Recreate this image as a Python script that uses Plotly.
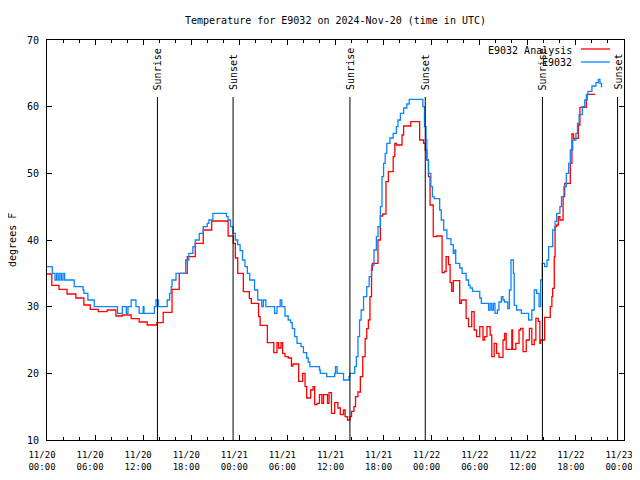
import pandas as pd
import plotly.graph_objects as go

# ---- data (hours after 2024-11-20 00:00 UTC, degrees F) ----
obs_hours = [0, 0.66, 1.0, 1.2, 1.4, 1.6, 1.8, 2.0, 2.2, 3.4, 4.5, 4.6, 5.1, 5.9, 8.8, 9.4, 9.9,
             10.1, 10.5, 11.1, 11.5, 12.0, 12.1, 13.4, 13.6, 13.9, 15.0, 15.3, 15.5, 15.6, 16.1,
             17.3, 17.7, 18.2, 18.5, 19.0, 19.5, 20.0, 20.2, 20.7, 22.4, 22.6, 22.9, 23.2, 23.5,
             23.8, 24.1, 24.4, 24.7, 25.0, 25.3, 25.9, 26.3, 26.8, 27.0, 27.3, 28.4, 28.7, 29.1,
             29.3, 29.7, 30.1, 30.4, 30.6, 30.9, 31.2, 31.7, 32.0, 32.4, 32.6, 32.8, 34.0, 34.1,
             34.9, 35.9, 36.0, 36.2, 37.0, 37.7, 37.8, 38.4, 38.6, 38.8, 39.0, 39.2, 39.5, 39.9,
             40.2, 40.5, 40.8, 41.1, 41.3, 41.6, 41.8, 42.0, 42.2, 42.4, 42.8, 43.2, 43.6, 43.8,
             44.1, 44.5, 44.9, 45.2, 46.9, 47.1, 47.3, 47.4, 47.6, 47.9, 48.1, 48.3, 49.0, 49.2,
             49.5, 49.9, 50.4, 50.7, 50.9, 51.0, 51.5, 51.8, 52.3, 52.6, 52.8, 53.1, 54.0, 54.2,
             55.1, 55.3, 55.5, 55.7, 55.9, 56.2, 56.4, 56.7, 56.9, 57.1, 57.5, 57.7, 57.9, 58.2,
             58.3, 58.6, 59.2, 60.1, 60.5, 60.8, 61.1, 61.4, 61.6, 61.8, 62.1, 62.4, 62.6, 63.1,
             63.4, 63.6, 64.0, 64.2, 64.5, 64.8, 65.1, 65.3, 65.6, 66.0, 66.2, 66.4, 66.8, 67.1,
             67.3, 67.5, 68.0, 68.5, 68.8, 69.0, 69.2, 69.3]
obs_temps = [36, 35, 34, 35, 34, 35, 34, 35, 34, 33, 32.5, 32, 31, 30, 29, 30, 29,
             30, 31, 30, 29, 30, 29, 30, 31, 30, 31, 32, 33, 34, 35,
             37, 38, 39, 40, 41, 42, 42.5, 43, 44, 43.5, 43, 42, 41, 40,
             39.3, 38.4, 37, 36, 35, 34, 32.5, 31, 30, 31, 30, 29, 30, 31,
             30, 28.6, 28, 27.6, 26.7, 25.5, 24.5, 24, 23.1, 22.3, 21.7, 21, 20.5, 20,
             19.5, 20, 21, 20, 19, 19.5, 20, 21, 22.5, 25.5, 28, 29.5, 31.5, 33,
             34.5, 36.2, 38.5, 40.5, 42, 45, 49.5, 51.5, 53, 54.5, 55.3, 56, 57, 58,
             59, 59.8, 60.4, 61.1, 60, 57, 55, 52, 50, 48, 46.5, 46.2, 44.5, 43,
             41.5, 40.2, 39.3, 38, 38.5, 36.5, 35.8, 35, 34, 33.2, 32.8, 32.3, 31.3, 30.5,
             29.5, 30.5, 29.5, 30.5, 29, 29.5, 30.7, 31.5, 31, 30.7, 29.7, 32.5, 37, 35,
             30.2, 29.5, 29, 28, 29.5, 32.5, 32, 30, 34, 36.5, 36, 37, 39, 41.5,
             42.8, 44, 45, 46.5, 48, 50, 51.5, 53.5, 55, 56, 57.5, 58.8, 60, 61,
             61.8, 62.3, 63.1, 63.6, 64.1, 63.5, 63, 63]

ana_hours = [0, 0.6, 1.5, 2.5, 3.6, 4.6, 5.4, 6.4, 7.5, 8.6, 9.4, 10.5, 11.5, 12.5, 13.7,
             14.5, 15.6, 16.5, 17.5, 18.5, 19.5, 20.55, 22.6, 23.25, 23.5, 23.8, 24.5, 25.25,
             25.5, 26.4, 26.6, 27.5, 28.3, 28.7, 28.9, 29.2, 29.4, 29.7, 30.1, 30.5, 30.7,
             31.4, 31.9, 32.2, 32.4, 32.9, 33.2, 33.4, 33.7, 34.0, 34.3, 34.5, 35.0, 35.2,
             35.5, 35.9, 36.3, 36.6, 37.0, 37.2, 37.5, 37.8, 38.0, 38.3, 38.5, 38.8, 39.1,
             39.4, 39.7, 39.9, 40.1, 40.3, 40.5, 40.6, 41.3, 41.6, 41.9, 42.3, 42.6, 43.2,
             43.4, 43.6, 44.3, 44.5, 45.4, 46.5, 47.0, 47.2, 47.4, 47.6, 47.8, 48.2, 48.6,
             49.3, 49.6, 49.8, 50.1, 50.3, 50.5, 50.7, 51.5, 51.7, 52.3, 52.6, 53.0, 53.3,
             53.6, 54.0, 54.4, 54.6, 54.9, 55.3, 55.5, 55.8, 56.1, 56.4, 56.9, 57.1, 57.3,
             58.0, 58.1, 58.5, 58.9, 59.1, 59.4, 59.8, 60.2, 60.5, 60.8, 61.0, 61.3, 61.5,
             61.6, 62.1, 62.8, 63.0, 63.1, 63.3, 63.4, 63.6, 63.8, 64.0, 64.4, 64.6, 65.3,
             65.5, 65.7, 66.3, 66.5, 67.3, 67.4, 68.4]
ana_temps = [34.9, 33.2, 32.6, 31.9, 31.3, 30.25, 29.6, 29.25, 29.5, 28.6, 28.75, 28.2, 27.7, 27.25, 27.6,
             29.15, 32.6, 35, 37.5, 39.5, 41.5, 42.85, 40.6, 39.5, 37.3, 35, 32.25, 31.2,
             30.5, 28.5, 27.2, 24.6, 23.1, 24.6, 23.8, 24.6, 23, 22.5, 22.3, 21.1, 21.4,
             18.8, 20, 18, 16.3, 17.5, 18, 15.3, 15.5, 16.8, 15.5, 16.8, 15.5, 17.1,
             14, 15.6, 14.8, 13.8, 14.5, 13.5, 13, 13.5, 14.3, 15, 16.5, 17.2, 19.5,
             22.5, 25.2, 26.7, 28, 31.5, 35.5, 36.5, 40, 43.6, 43.9, 48.75, 50.25, 52.5,
             54.5, 54.25, 55.75, 57.1, 57.75, 55, 54.5, 53.5, 52, 49.5, 45.25, 40.5, 40.6,
             35.1, 35.3, 37.5, 36.3, 33.6, 32.3, 33.9, 30.5, 31, 28.25, 27, 29.25, 26.5,
             25.5, 27, 25, 25.5, 27, 25.75, 22.5, 24.5, 23, 22.4, 25, 26, 23.6,
             26.5, 23.6, 24.5, 26.5, 26.75, 23.25, 25, 26.75, 24.3, 25, 28.25, 27.8, 24.5,
             25, 28.4, 30, 31.5, 32.75, 37.5, 42, 42.25, 43.5, 43, 46.5, 48.5, 51.5,
             55.9, 55.25, 57.25, 59.9, 61, 61.85, 61.85]

sun_hours = [13.78, 23.22, 37.8, 47.2, 61.82, 71.2]
sun_labels = ["Sunrise", "Sunset", "Sunrise", "Sunset", "Sunrise", "Sunset"]

series_names = ["E9032 Analysis", "E9032"]
series_colors = ["#ff0000", "#0a84ff"]

base = pd.Timestamp("2024-11-20 00:00")
def to_time(hours):
    return [base + pd.Timedelta(hours=h) for h in hours]

FONT = "DejaVu Sans Mono"

fig = go.Figure()
fig.add_trace(go.Scatter(x=to_time(ana_hours), y=ana_temps, mode="lines",
                         line=dict(color=series_colors[0], width=1.3, shape="hv"),
                         name=series_names[0], showlegend=False))
fig.add_trace(go.Scatter(x=to_time(obs_hours), y=obs_temps, mode="lines",
                         line=dict(color=series_colors[1], width=1.3, shape="hv"),
                         name=series_names[1], showlegend=False))

for t, lab in zip(to_time(sun_hours), sun_labels):
    fig.add_shape(type="line", xref="x", yref="paper", x0=t, x1=t, y0=0, y1=0.8575,
                  line=dict(color="black", width=1))
    fig.add_annotation(x=t, xref="x", y=0.87, yref="paper", text=lab, textangle=-90,
                       showarrow=False, xanchor="center", yanchor="bottom",
                       font=dict(family=FONT, size=10, color="black"))

# manual legend (text left of sample line, gnuplot style)
leg_y_text = [0.975, 0.94375]
leg_y_line = [0.9775, 0.945]
for name, col, yt, yl in zip(series_names, series_colors, leg_y_text, leg_y_line):
    fig.add_annotation(x=0.9133, xref="paper", y=yt, yref="paper", text=name,
                       showarrow=False, xanchor="right", yanchor="middle",
                       font=dict(family=FONT, size=10, color="black"))
    fig.add_shape(type="line", xref="paper", yref="paper", x0=0.9255, x1=0.9757,
                  y0=yl, y1=yl, line=dict(color=col, width=1.3))

fig.add_annotation(x=-0.0607, xref="paper", y=0.5, yref="paper", text="degrees F",
                   textangle=-90, showarrow=False, xanchor="center", yanchor="middle",
                   font=dict(family=FONT, size=10, color="black"))

# the page body adds an ~8px offset; margins compensate for it
fig.update_layout(
    width=640, height=480,
    margin=dict(l=39, r=24, t=32, b=48, autoexpand=False),
    paper_bgcolor="white", plot_bgcolor="white",
    title=dict(text="Temperature for E9032 on 2024-Nov-20 (time in UTC)",
               x=0.5, xref="paper", y=1 - 12 / 480, yref="container", yanchor="middle",
               font=dict(family=FONT, size=10, color="black")),
    font=dict(family=FONT, size=10, color="black"),
    showlegend=False,
)
fig.update_xaxes(
    type="date", automargin=False,
    range=[base, base + pd.Timedelta(hours=72)],
    dtick=6 * 3600 * 1000, tick0=base,
    tickformat="%m/%d<br>%H:%M",
    ticks="inside", ticklen=5, tickcolor="black", ticklabelstandoff=6, ticklabelshift=-5,
    minor=dict(dtick=2 * 3600 * 1000, ticks="inside", ticklen=3, tickcolor="black"),
    showgrid=False, zeroline=False,
    showline=True, linecolor="black", linewidth=1, mirror="ticks",
    tickfont=dict(family=FONT, size=9, color="black"),
)
fig.update_yaxes(
    automargin=False,
    range=[10, 70], dtick=10,
    ticks="inside", ticklen=5, tickcolor="black", ticklabelstandoff=5,
    showgrid=False, zeroline=False,
    showline=True, linecolor="black", linewidth=1, mirror="ticks",
    tickfont=dict(family=FONT, size=10, color="black"),
)

fig.write_html("out.html")
